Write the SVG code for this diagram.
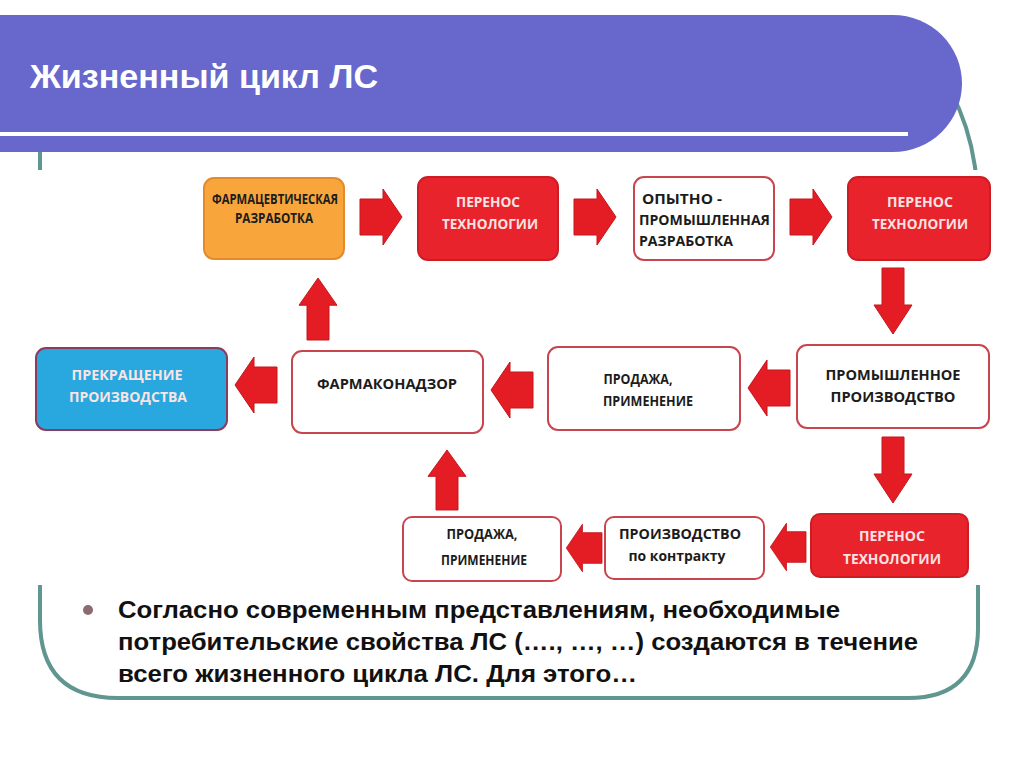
<svg xmlns="http://www.w3.org/2000/svg" width="1024" height="767" viewBox="0 0 1024 767">
<style>
.box{stroke-width:2}
.wb{fill:#ffffff;stroke:#c8454d}
.rb{fill:#e8232b;stroke:#cc1d25}
.ob{fill:#f8a63c;stroke:#e48a2c}
.bb{fill:#29a8e0;stroke:#8d3b5a}
.t{font-family:"Open Sans","Liberation Sans",sans-serif;font-weight:bold;font-size:15px;fill:#1c1c1c}
.tw{fill:#fbe3e3}
.m{text-anchor:middle}
.arr{fill:#e41c24;stroke:#c4161d;stroke-width:1}
.body{font-family:"Liberation Sans",Arial,sans-serif;font-weight:bold;font-size:23px;fill:#111}
</style>
<defs>
<polygon id="ar" points="0,-18 23,-18 23,-28 42,0 23,28 23,18 0,18"/>
<polygon id="ad" points="-11,0 11,0 11,37 19,37 0,66 -19,37 -11,37"/>
</defs>
<rect width="1024" height="767" fill="#ffffff"/>
<path d="M40 140 V620 Q40 698 118 698 H908 Q978 698 978 628 V210 Q978 120 930 60" fill="none" stroke="#5f9690" stroke-width="4"/>
<path d="M0 15 H893 A69 68.5 0 0 1 893 152 H0 Z" fill="#6767cc"/>
<rect x="0" y="132" width="908" height="4" fill="#ffffff"/>
<text x="30" y="88" font-family="'Liberation Sans',Arial,sans-serif" font-weight="bold" font-size="34" fill="#ffffff" textLength="348" lengthAdjust="spacingAndGlyphs">Жизненный цикл ЛС</text>
<rect x="20" y="170" width="982" height="415" fill="#ffffff"/>
<g id="connectors">
<use href="#ar" class="arr" transform="translate(360,217)"/>
<use href="#ar" class="arr" transform="translate(574,217)"/>
<use href="#ar" class="arr" transform="translate(790,217)"/>
<use href="#ad" class="arr" transform="translate(893,268)"/>
<use href="#ad" class="arr" transform="translate(318,340) rotate(180) scale(1,0.94)"/>
<use href="#ar" class="arr" transform="translate(277,385) rotate(180)"/>
<use href="#ar" class="arr" transform="translate(533,390) rotate(180)"/>
<use href="#ar" class="arr" transform="translate(790,388) rotate(180)"/>
<use href="#ad" class="arr" transform="translate(893,437)"/>
<use href="#ad" class="arr" transform="translate(447,510) rotate(180) scale(1,0.91)"/>
<use href="#ar" class="arr" transform="translate(602,548) rotate(180) scale(0.85)"/>
<use href="#ar" class="arr" transform="translate(806,547) rotate(180) scale(0.85)"/>
</g>
<g id="n1">
<rect class="box ob" x="204" y="178" width="140" height="81" rx="10"/>
<text class="t m" x="275" y="204" font-size="13" textLength="126" lengthAdjust="spacingAndGlyphs">ФАРМАЦЕВТИЧЕСКАЯ</text>
<text class="t m" x="274" y="223" font-size="13" textLength="78" lengthAdjust="spacingAndGlyphs">РАЗРАБОТКА</text>
</g>
<g id="n2">
<rect class="box rb" x="418" y="177" width="140" height="83" rx="10"/>
<text class="t tw m" x="488" y="207" textLength="64" lengthAdjust="spacingAndGlyphs">ПЕРЕНОС</text>
<text class="t tw m" x="490" y="229" textLength="96" lengthAdjust="spacingAndGlyphs">ТЕХНОЛОГИИ</text>
</g>
<g id="n3">
<rect class="box wb" x="634" y="177" width="140" height="83" rx="10"/>
<text class="t" x="642" y="204" textLength="80" lengthAdjust="spacingAndGlyphs">ОПЫТНО -</text>
<text class="t" x="639" y="225" textLength="131" lengthAdjust="spacingAndGlyphs">ПРОМЫШЛЕННАЯ</text>
<text class="t" x="639" y="246" textLength="94" lengthAdjust="spacingAndGlyphs">РАЗРАБОТКА</text>
</g>
<g id="n4">
<rect class="box rb" x="848" y="177" width="142" height="83" rx="10"/>
<text class="t tw m" x="920" y="207" textLength="66" lengthAdjust="spacingAndGlyphs">ПЕРЕНОС</text>
<text class="t tw m" x="920" y="229" textLength="96" lengthAdjust="spacingAndGlyphs">ТЕХНОЛОГИИ</text>
</g>
<g id="n5">
<rect class="box bb" x="36" y="348" width="191" height="82" rx="10"/>
<text class="t tw m" x="127" y="380" textLength="111" lengthAdjust="spacingAndGlyphs">ПРЕКРАЩЕНИЕ</text>
<text class="t tw m" x="128" y="402" textLength="118" lengthAdjust="spacingAndGlyphs">ПРОИЗВОДСТВА</text>
</g>
<g id="n6">
<rect class="box wb" x="292" y="351" width="191" height="82" rx="10"/>
<text class="t m" x="387" y="389" textLength="140" lengthAdjust="spacingAndGlyphs">ФАРМАКОНАДЗОР</text>
</g>
<g id="n7">
<rect class="box wb" x="548" y="347" width="192" height="83" rx="10"/>
<text class="t m" x="638" y="384" textLength="69" lengthAdjust="spacingAndGlyphs">ПРОДАЖА,</text>
<text class="t m" x="648" y="406" textLength="90" lengthAdjust="spacingAndGlyphs">ПРИМЕНЕНИЕ</text>
</g>
<g id="n8">
<rect class="box wb" x="797" y="345" width="192" height="83" rx="10"/>
<text class="t m" x="893" y="380" textLength="135" lengthAdjust="spacingAndGlyphs">ПРОМЫШЛЕННОЕ</text>
<text class="t m" x="893" y="402" textLength="125" lengthAdjust="spacingAndGlyphs">ПРОИЗВОДСТВО</text>
</g>
<g id="n9">
<rect class="box wb" x="403" y="517" width="158" height="64" rx="9"/>
<text class="t m" x="482" y="539" textLength="71" lengthAdjust="spacingAndGlyphs">ПРОДАЖА,</text>
<text class="t m" x="484" y="565" textLength="86" lengthAdjust="spacingAndGlyphs">ПРИМЕНЕНИЕ</text>
</g>
<g id="n10">
<rect class="box wb" x="605" y="517" width="159" height="62" rx="9"/>
<text class="t m" x="680" y="539" textLength="122" lengthAdjust="spacingAndGlyphs">ПРОИЗВОДСТВО</text>
<text class="t m" x="677" y="561" font-size="13" textLength="97" lengthAdjust="spacingAndGlyphs">по контракту</text>
</g>
<g id="n11">
<rect class="box rb" x="811" y="514" width="157" height="63" rx="9"/>
<text class="t tw m" x="892" y="541" textLength="66" lengthAdjust="spacingAndGlyphs">ПЕРЕНОС</text>
<text class="t tw m" x="892" y="564" textLength="98" lengthAdjust="spacingAndGlyphs">ТЕХНОЛОГИИ</text>
</g>
<circle cx="88" cy="610" r="5" fill="#8c6a70"/>
<text class="body" x="118" y="618" textLength="722" lengthAdjust="spacingAndGlyphs">Согласно современным представлениям, необходимые</text>
<text class="body" x="118" y="650" textLength="800" lengthAdjust="spacingAndGlyphs">потребительские свойства ЛС (…., …, …) создаются в течение</text>
<text class="body" x="118" y="682" textLength="519" lengthAdjust="spacingAndGlyphs">всего жизненного цикла ЛС.  Для этого…</text>
</svg>
